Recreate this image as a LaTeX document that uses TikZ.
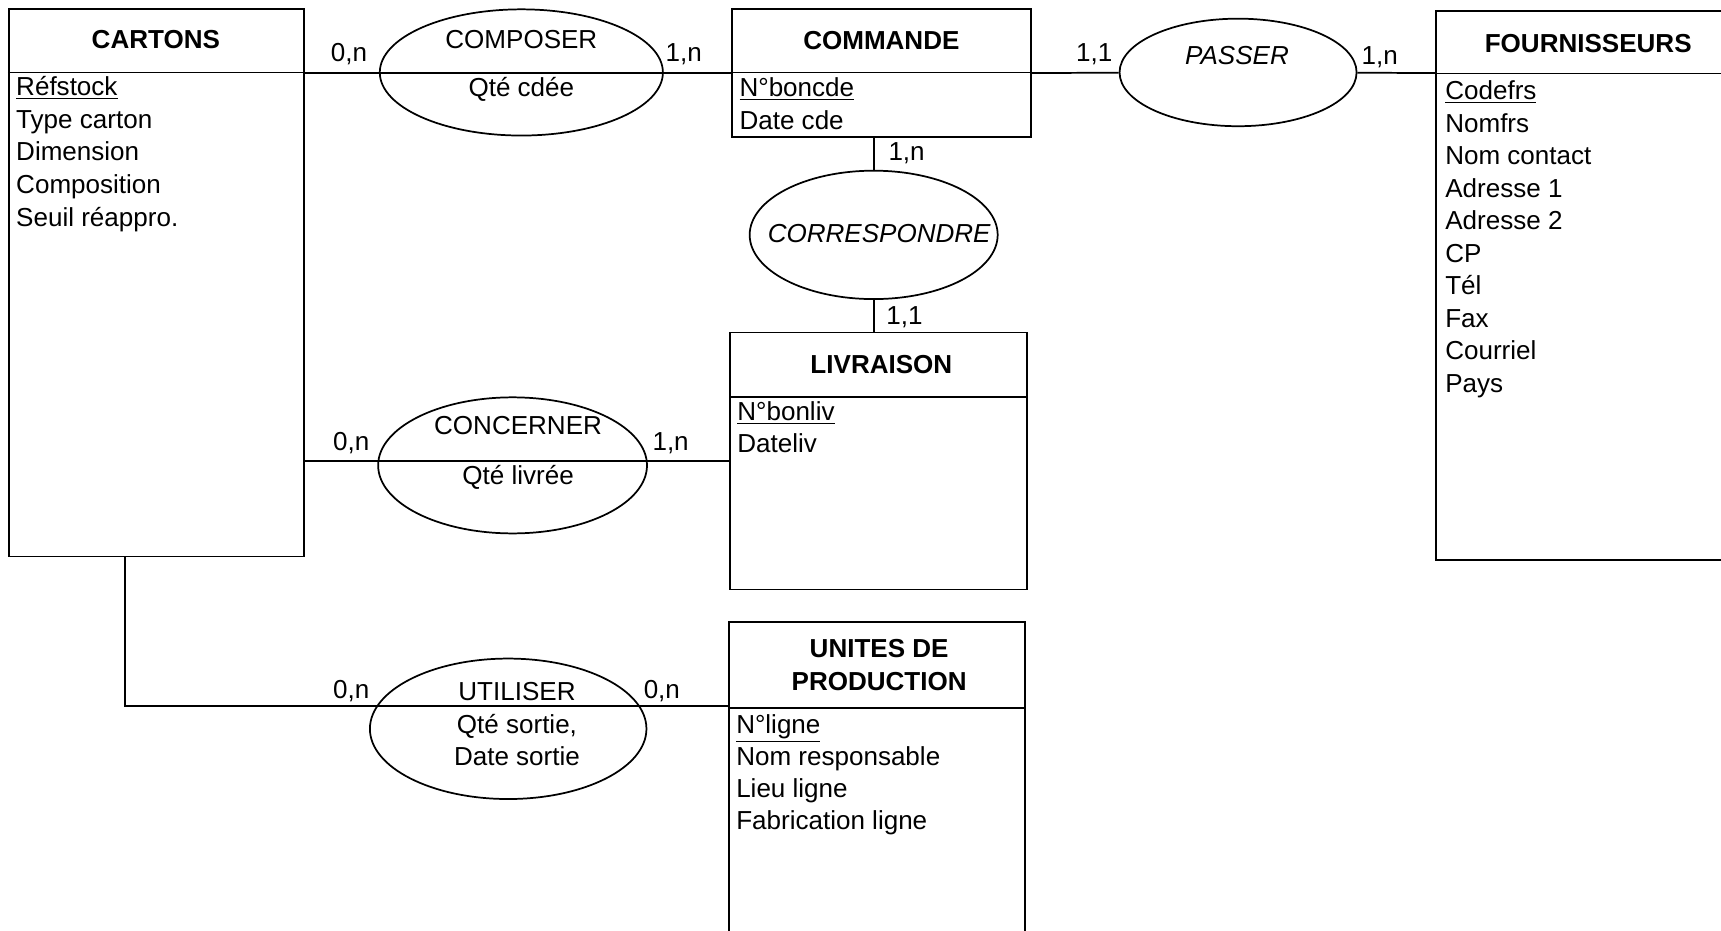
\documentclass[tikz,border=0pt]{standalone}
\usepackage{fontspec}
\setmainfont{Liberation Sans}
\usetikzlibrary{shapes.geometric,fit,calc}

\begin{document}
\begin{tikzpicture}[
    x=0.02cm, y=-0.02cm,
    line width=0.9pt,
    every node/.style={font=\fontsize{13.5}{16.8}\selectfont},
    entity/.style={rectangle, draw, inner sep=0pt},
    etitle/.style={font=\fontsize{13.5}{16.8}\selectfont\bfseries, align=center},
    attr/.style={anchor=base west, inner sep=0pt},
    assoc/.style={ellipse, draw, inner sep=0pt},
    card/.style={inner sep=0pt}
]
    \useasboundingbox (0,0) rectangle (1568,848);
    \clip (0,0) rectangle (1568,848);

    % Entities
    \node[entity, fit={(8,8) (277,507)}] (cartons) {};
    \node[entity, fit={(667,8) (939,125)}] (commande) {};
    \node[entity, fit={(1308,10) (1586,510)}] (fourn) {};
    \node[entity, fit={(665,303) (936,537)}] (livraison) {};
    \node[entity, fit={(664,567) (934,880)}] (unites) {};

    \draw (cartons.west |- 0,66) -- (cartons.east |- 0,66);
    \draw (commande.west |- 0,66) -- (commande.east |- 0,66);
    \draw (fourn.west |- 0,67) -- (fourn.east |- 0,67);
    \draw (livraison.west |- 0,362) -- (livraison.east |- 0,362);
    \draw (unites.west |- 0,645) -- (unites.east |- 0,645);

    \node[etitle] (cartonsT) at (142,36) {CARTONS};
    \node[etitle] (commandeT) at (803,37) {COMMANDE};
    \node[etitle] (fournT) at (1447,40) {FOURNISSEURS};
    \node[etitle] (livraisonT) at (803,332) {LIVRAISON};
    \node[etitle] (unitesT) at (801,606) {UNITES DE\\PRODUCTION};

    % Attributes
    \foreach \a [count=\i from 0] in {\underline{Réfstock}, Type carton, Dimension, Composition, Seuil réappro.}
        \node[attr] (cartonsA\i) at (14,87+29.8*\i) {\a};
    \foreach \a [count=\i from 0] in {\underline{N°boncde}, Date cde}
        \node[attr] (commandeA\i) at (673,88+29.8*\i) {\a};
    \foreach \a [count=\i from 0] in {\underline{Codefrs}, Nomfrs, Nom contact, Adresse 1, Adresse 2, CP, Tél, Fax, Courriel, Pays}
        \node[attr] (fournA\i) at (1316,91+29.6*\i) {\a};
    \foreach \a [count=\i from 0] in {\underline{N°bonliv}, Dateliv}
        \node[attr] (livraisonA\i) at (671,383+29.5*\i) {\a};
    \foreach \a [count=\i from 0] in {\underline{N°ligne}, Nom responsable, Lieu ligne, Fabrication ligne}
        \node[attr] (unitesA\i) at (670,668+29.3*\i) {\a};

    % Associations
    \node[assoc, minimum width=5.16cm, minimum height=2.30cm] (composer) at (475,66) {};
    \node[assoc, minimum width=4.32cm, minimum height=1.96cm] (passer) at (1128,66) {};
    \node[assoc, minimum width=4.52cm, minimum height=2.34cm] (correspondre) at (796,214) {};
    \node[assoc, minimum width=4.90cm, minimum height=2.48cm] (concerner) at (467,424) {};
    \node[assoc, minimum width=5.04cm, minimum height=2.56cm] (utiliser) at (463,664) {};

    \node (composerT) at (475,36) {COMPOSER};
    \node (composerA) at (475,81) {Qté cdée};
    \node[font=\fontsize{13.5}{16.8}\selectfont\itshape] (passerT) at (1127,51) {PASSER};
    \node[font=\fontsize{13.5}{16.8}\selectfont\itshape] (correspondreT) at (801,213) {CORRESPONDRE};
    \node (concernerT) at (472,388) {CONCERNER};
    \node (concernerA) at (472,435) {Qté livrée};
    \node (utiliserT) at (471,630) {UTILISER};
    \node[align=center] (utiliserA) at (471,674) {Qté sortie,\\Date sortie};

    % Links
    \coordinate (elbow) at (114,643);
    \draw (cartons.east |- commande.west) -- (commande.west);
    \draw (commande.east) -- (passer);
    \draw (passer) -- (fourn.west |- commande.east);
    \draw (commande.south -| correspondre) -- (correspondre);
    \draw (correspondre) -- (livraison.north -| correspondre);
    \draw (cartons.east |- livraison.west) -- (livraison.west);
    \draw (cartons.south -| elbow) -- (elbow) -- (unites.west |- elbow);

    % Cardinalities
    \node[card] (k1) at (318,49) {0,n};
    \node[card] (k2) at (623,49) {1,n};
    \node[card] (k3) at (997,49) {1,1};
    \node[card] (k4) at (1257,52) {1,n};
    \node[card] (k5) at (826,140) {1,n};
    \node[card] (k6) at (824,289) {1,1};
    \node[card] (k7) at (320,404) {0,n};
    \node[card] (k8) at (611,404) {1,n};
    \node[card] (k9) at (320,630) {0,n};
    \node[card] (k10) at (603,630) {0,n};
\end{tikzpicture}
\end{document}
